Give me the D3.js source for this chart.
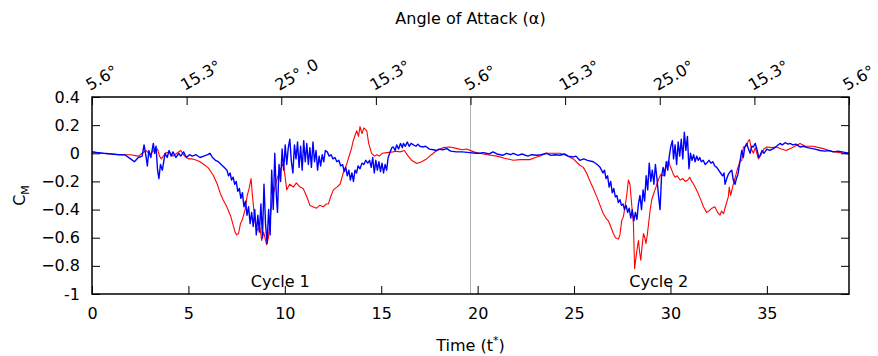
<!DOCTYPE html>
<html><head><meta charset="utf-8">
<script src="https://cdn.jsdelivr.net/npm/d3@7"></script>
<style>body{margin:0;background:#fff}svg{display:block}text{font-family:"DejaVu Sans",sans-serif;fill:#000}</style>
</head><body><svg id="c" width="878" height="356"></svg>
<script>
// [time t*, C_M]
const blueSeries=[[0,0.01],[0.3,0.005],[0.6,0],[1,-0.005],[1.4,-0.01],[1.7,-0.01],[2,-0.04],[2.2,-0.06],[2.4,-0.03],[2.6,-0.02],[2.7,0.06],[2.8,-0.02],[2.87,-0.09],[2.95,0.02],[3.05,-0.03],[3.18,0.07],[3.25,0],[3.32,0.05],[3.4,-0.12],[3.47,-0.18],[3.55,-0.08],[3.65,-0.12],[3.79,0],[3.9,-0.03],[4,0.02],[4.1,-0.02],[4.2,0.01],[4.35,-0.03],[4.5,0],[4.6,-0.02],[4.75,0.01],[4.9,-0.03],[5.05,-0.01],[5.2,-0.02],[5.4,-0.01],[5.6,-0.03],[5.8,-0.02],[6,-0.01],[6.12,0],[6.25,-0.03],[6.4,-0.05],[6.55,-0.06],[6.7,-0.08],[6.85,-0.1],
[7,-0.12],[7.08,-0.16],[7.16,-0.14],[7.24,-0.19],[7.32,-0.17],[7.4,-0.22],[7.48,-0.2],[7.56,-0.27],[7.64,-0.25],[7.72,-0.32],[7.8,-0.28],[7.88,-0.38],[7.96,-0.34],[8.04,-0.44],[8.12,-0.38],[8.2,-0.5],[8.28,-0.42],[8.36,-0.52],[8.44,-0.4],[8.52,-0.58],[8.6,-0.44],[8.68,-0.56],[8.76,-0.36],[8.84,-0.6],[8.92,-0.22],[9,-0.5],[9.08,-0.64],[9.16,-0.4],[9.24,-0.58],[9.32,-0.12],[9.4,-0.4],[9.48,0],[9.56,-0.3],[9.62,-0.42],[9.7,-0.08],[9.78,-0.2],[9.86,0.03],[9.94,-0.12],[10.02,0.06],[10.1,-0.08],[10.18,0.04],[10.26,0.1],[10.34,-0.06],[10.42,-0.14],[10.5,0.06],[10.58,-0.04],[10.66,0.08],[10.74,-0.1],[10.82,0.05],[10.9,-0.12],[10.98,0.09],[11.06,-0.06],[11.14,0.07],[11.22,-0.08],[11.3,0.04],[11.38,-0.1],[11.46,0.08],[11.54,-0.06],[11.62,0.02],[11.7,-0.12],[11.78,-0.02],[11.86,-0.09],[11.94,-0.01],[12.02,-0.06],[12.1,0.02],[12.2,0.01],[12.3,-0.02],[12.4,-0.01],[12.5,-0.04],[12.6,-0.03],[12.7,-0.06],[12.8,-0.05],[12.9,-0.09],[13,-0.08],[13.08,-0.13],[13.16,-0.1],[13.24,-0.16],[13.32,-0.12],[13.4,-0.19],[13.48,-0.14],[13.56,-0.2],[13.64,-0.12],[13.72,-0.14],[13.8,-0.09],[13.9,-0.11],[14,-0.07],[14.1,-0.08],[14.2,-0.05],[14.3,-0.07],[14.4,-0.05],[14.48,-0.1],[14.56,-0.03],[14.64,-0.14],[14.72,-0.05],[14.8,-0.12],[14.88,-0.06],[14.96,-0.13],[15.04,-0.07],[15.12,-0.14],[15.2,-0.08],[15.28,-0.12],[15.36,-0.03],[15.44,0],
[15.55,0.04],[15.63,0.045],[15.72,0.02],[15.8,0.06],[15.9,0.03],[16,0.07],[16.1,0.04],[16.15,0.07],[16.25,0.05],[16.35,0.08],[16.45,0.05],[16.55,0.07],[16.67,0.06],[16.8,0.05],[16.9,0.065],[17,0.05],[17.18,0.045],[17.3,0.05],[17.5,0.03],[17.7,0.025],[17.88,0.02],[18,0.03],[18.2,0.025],[18.4,0.033],[18.6,0.015],[18.9,0.01],[19.2,0.01],[19.6,0.005],[19.9,0],[20.1,0],[20.3,0.005],[20.6,-0.005],[20.8,0.01],[21,-0.005],[21.3,-0.014],[21.5,0],[21.7,-0.01],[21.85,0],[22.1,-0.015],[22.3,-0.005],[22.6,-0.02],[22.8,-0.01],[23.06,-0.014],[23.3,-0.01],[23.58,0],[23.8,-0.015],[24,-0.01],[24.27,-0.014],[24.5,-0.005],[24.7,-0.02],[24.96,-0.026],[25.1,-0.02],[25.3,-0.05],[25.5,-0.04],[25.7,-0.05],[26,-0.06],[26.2,-0.08],[26.35,-0.1],
[26.5,-0.14],[26.58,-0.12],[26.66,-0.18],[26.74,-0.16],[26.82,-0.24],[26.9,-0.2],[26.98,-0.28],[27.06,-0.25],[27.14,-0.31],[27.22,-0.3],[27.3,-0.35],[27.38,-0.33],[27.46,-0.37],[27.54,-0.36],[27.62,-0.4],[27.7,-0.37],[27.78,-0.42],[27.86,-0.39],[27.94,-0.46],[28.02,-0.4],[28.1,-0.48],[28.18,-0.42],[28.26,-0.47],[28.34,-0.36],[28.42,-0.3],[28.5,-0.4],[28.58,-0.26],[28.66,-0.34],[28.74,-0.16],[28.82,-0.26],[28.9,-0.07],[28.98,-0.2],[29.06,-0.12],[29.14,-0.22],[29.22,-0.08],[29.3,-0.18],[29.38,-0.3],[29.46,-0.4],[29.54,-0.16],[29.62,-0.1],[29.7,-0.16],[29.78,-0.06],[29.86,-0.12],[29.94,-0.02],[30.02,0.05],[30.1,0.09],[30.16,-0.04],[30.24,0.06],[30.32,-0.08],[30.4,0.08],[30.48,-0.02],[30.56,0.1],[30.64,-0.04],[30.72,0.15],[30.8,0.02],[30.88,0.12],[30.96,-0.11],[31.04,0],[31.12,-0.05],[31.2,-0.01],[31.28,-0.06],[31.36,-0.02],[31.44,-0.05],[31.52,-0.03],[31.6,-0.06],
[31.7,-0.05],[31.8,-0.08],[31.88,-0.07],[32,-0.05],[32.1,-0.07],[32.2,-0.06],[32.3,-0.09],[32.4,-0.1],[32.5,-0.12],[32.6,-0.14],[32.7,-0.16],[32.78,-0.14],[32.83,-0.22],[32.92,-0.18],[33,-0.15],[33.1,-0.13],[33.18,-0.12],[33.26,-0.19],[33.35,-0.22],[33.42,-0.18],[33.5,-0.15],[33.58,-0.08],[33.7,0.02],[33.78,-0.03],[33.85,0.04],[33.95,0.07],[34.05,0.03],[34.13,0],[34.22,0.05],[34.3,0.045],[34.4,0.07],[34.5,0.02],[34.58,-0.03],[34.65,-0.014],[34.75,0.02],[34.85,0],[35,0.03],[35.15,0.02],[35.34,0.033],[35.5,0.05],[35.68,0.07],[35.8,0.06],[35.95,0.075],[36.1,0.065],[36.2,0.07],[36.35,0.06],[36.5,0.065],[36.72,0.045],[36.9,0.05],[37.1,0.04],[37.3,0.035],[37.5,0.03],[37.76,0.02],[38,0.015],[38.2,0.02],[38.45,0.01],[38.7,0.015],[38.9,0.01],[39.1,0.005],[39.26,0]];
const redSeries=[[0,0.01],[0.5,0],[1,-0.005],[1.5,-0.01],[2,-0.01],[2.4,-0.02],[2.6,0],[2.8,0.02],[3,-0.01],[3.2,0.02],[3.4,0.03],[3.5,-0.02],[3.6,-0.04],[3.8,0],[4,0.01],[4.2,-0.02],[4.4,0],[4.6,0.02],[4.8,-0.02],[5,-0.04],[5.2,-0.04],[5.43,-0.05],[5.6,-0.06],[5.8,-0.08],[6,-0.1],[6.12,-0.12],[6.3,-0.16],[6.5,-0.22],[6.64,-0.28],[6.8,-0.33],[6.99,-0.38],[7.2,-0.45],[7.42,-0.56],[7.5,-0.58],[7.6,-0.57],[7.7,-0.5],[7.8,-0.47],[7.94,-0.4],[8.05,-0.3],[8.15,-0.25],[8.25,-0.18],[8.32,-0.3],[8.45,-0.48],[8.55,-0.55],[8.7,-0.52],[8.8,-0.62],[8.9,-0.56],[9.06,-0.65],[9.15,-0.6],[9.23,-0.48],[9.35,-0.32],[9.49,-0.24],[9.6,-0.18],[9.75,-0.12],[9.92,-0.07],[10,-0.15],[10.1,-0.26],[10.25,-0.22],[10.44,-0.24],[10.6,-0.21],[10.79,-0.24],[10.95,-0.25],[11.05,-0.28],[11.2,-0.33],[11.3,-0.37],[11.45,-0.38],[11.65,-0.39],[11.8,-0.37],[12,-0.38],[12.15,-0.36],[12.26,-0.36],[12.4,-0.3],[12.52,-0.26],[12.7,-0.24],[12.86,-0.22],[12.95,-0.18],[13.03,-0.14],[13.2,-0.08],[13.38,0],[13.45,0.03],[13.55,0.09],[13.65,0.13],[13.73,0.16],[13.82,0.12],[13.9,0.19],[14,0.14],[14.1,0.18],[14.25,0.16],[14.35,0.07],[14.5,0],[14.65,-0.02],[14.77,-0.01],[14.9,-0.02],[15.05,0],[15.3,0.005],[15.6,0.01],[15.8,0.015],[15.97,0.01],[16.2,0.02],[16.4,-0.02],[16.58,-0.05],[16.84,-0.073],[17.1,-0.06],[17.35,-0.04],[17.6,-0.01],[17.88,0.02],[18.2,0.04],[18.57,0.045],[18.9,0.035],[19.2,0.025],[19.43,0.03],[19.8,0.01],[20.1,0],[20.5,-0.01],[21,-0.02],[21.4,-0.035],[21.85,-0.05],[22.2,-0.045],[22.7,-0.045],[23,-0.03],[23.3,-0.015],[23.58,0],[23.9,0],[24.27,0],[24.6,-0.015],[24.96,-0.04],[25.3,-0.085],[25.48,-0.1],[25.65,-0.14],[25.8,-0.19],[26,-0.25],[26.18,-0.31],[26.35,-0.37],[26.52,-0.43],[26.65,-0.46],[26.78,-0.48],[26.9,-0.52],[27.04,-0.57],[27.15,-0.6],[27.3,-0.61],[27.38,-0.58],[27.47,-0.48],[27.56,-0.45],[27.64,-0.38],[27.73,-0.3],[27.82,-0.19],[27.9,-0.22],[28,-0.38],[28.08,-0.5],[28.14,-0.82],[28.25,-0.7],[28.34,-0.62],[28.4,-0.7],[28.46,-0.76],[28.53,-0.66],[28.6,-0.57],[28.67,-0.6],[28.73,-0.64],[28.8,-0.58],[28.85,-0.52],[28.95,-0.4],[29.03,-0.33],[29.1,-0.3],[29.2,-0.26],[29.3,-0.22],[29.37,-0.19],[29.5,-0.15],[29.63,-0.16],[29.75,-0.1],[29.9,-0.05],[29.98,-0.09],[30.07,-0.12],[30.15,-0.15],[30.24,-0.17],[30.35,-0.16],[30.5,-0.19],[30.65,-0.18],[30.76,-0.2],[30.9,-0.19],[31,-0.17],[31.1,-0.2],[31.2,-0.22],[31.35,-0.26],[31.45,-0.29],[31.6,-0.34],[31.71,-0.38],[31.88,-0.42],[32,-0.41],[32.15,-0.39],[32.3,-0.38],[32.45,-0.42],[32.57,-0.44],[32.65,-0.41],[32.75,-0.43],[32.85,-0.38],[33,-0.31],[33.05,-0.24],[33.12,-0.3],[33.26,-0.22],[33.4,-0.15],[33.5,-0.1],[33.6,-0.06],[33.7,-0.05],[33.78,0.045],[33.9,0.05],[33.95,0.057],[34.04,0.09],[34.1,0.097],[34.2,0.03],[34.3,0],[34.4,0.04],[34.56,-0.04],[34.7,-0.01],[34.85,0.03],[35,0.045],[35.25,0.04],[35.5,0.045],[35.75,0.03],[36,0.02],[36.3,0.04],[36.72,0.07],[37,0.05],[37.4,0.05],[37.7,0.04],[37.93,0.033],[38.2,0.02],[38.5,0.01],[38.8,0.005],[39,0],[39.26,-0.007]];
const xTicks=[0,5,10,15,20,25,30,35];
const yTicks=[0.4,0.2,0,-0.2,-0.4,-0.6,-0.8,-1];
const cycleLength=19.63;
const angleLabels=["5.6°","15.3°","25°\u2009.0","15.3°","5.6°","15.3°","25.0°","15.3°","5.6°"];
const cycleNames=["Cycle 1","Cycle 2"];

const FS=16;
const svg=d3.select("#c");
const L=92,R=849,T=97,B=294;
const x=d3.scaleLinear().domain([0,2*cycleLength]).range([L,R]);
const y=d3.scaleLinear().domain([-1,0.4]).range([B,T]);
const fmt=d=>d===0?"0":(Math.abs(d)===1?String(d):d3.format(".1f")(d));

svg.append("line").attr("x1",x(cycleLength)).attr("x2",x(cycleLength)).attr("y1",T).attr("y2",B).attr("stroke","#b0b0b0").attr("stroke-width",1);

const line=d3.line().x(d=>x(d[0])).y(d=>y(d[1]));
svg.append("path").datum(redSeries).attr("d",line).attr("fill","none").attr("stroke","#ff0000").attr("stroke-width",1.1).attr("stroke-linejoin","round");
svg.append("path").datum(blueSeries).attr("d",line).attr("fill","none").attr("stroke","#0000ff").attr("stroke-width",1.4).attr("stroke-linejoin","round");

const ax=svg.append("g");
const bottom=ax.append("g").attr("transform",`translate(0,${B})`).call(d3.axisBottom(x).tickValues(xTicks).tickSize(-8).tickPadding(14).tickFormat(d3.format("d")));
const left=ax.append("g").attr("transform",`translate(${L},0)`).call(d3.axisLeft(y).tickValues(yTicks).tickSize(-8).tickPadding(12).tickFormat(fmt));
const right=ax.append("g").attr("transform",`translate(${R},0)`).call(d3.axisRight(y).tickValues(yTicks).tickSize(-8).tickFormat(""));
const topTicks=angleLabels.map((_,i)=>i*cycleLength/4);
const topAx=ax.append("g").attr("transform",`translate(0,${T})`).call(d3.axisTop(x).tickValues(topTicks).tickSize(-8).tickFormat(""));
[bottom,left,right,topAx].forEach(g=>{g.attr("font-size",FS).attr("font-family","DejaVu Sans");g.select(".domain").remove();g.selectAll("line").attr("stroke","#000");g.selectAll("text").attr("fill","#000");});
svg.append("rect").attr("x",L).attr("y",T).attr("width",R-L).attr("height",B-T).attr("fill","none").attr("stroke","#000").attr("stroke-width",1.5);

svg.append("g").selectAll("text").data(angleLabels).join("text")
  .attr("transform",(d,i)=>`translate(${x(topTicks[i])-2},${T-6}) rotate(-30)`)
  .attr("font-size",FS).text(d=>d);

svg.append("g").selectAll("text").data(cycleNames).join("text")
  .attr("x",(d,i)=>x(cycleLength*(i+0.5)-0.05)).attr("y",287).attr("text-anchor","middle").attr("font-size",FS).text(d=>d);

svg.append("text").attr("x",x(cycleLength)).attr("y",24).attr("text-anchor","middle").attr("font-size",FS).text("Angle of Attack (α)");
const tl=svg.append("text").attr("x",x(cycleLength)).attr("y",351).attr("text-anchor","middle").attr("font-size",FS);
tl.append("tspan").text("Time (t");
tl.append("tspan").attr("dy",-7).attr("font-size",11).text("*");
tl.append("tspan").attr("dy",7).text(")");
const cm=svg.append("text").attr("transform",`translate(25,${(T+B)/2}) rotate(-90)`).attr("text-anchor","middle").attr("font-size",FS);
cm.append("tspan").text("C");
cm.append("tspan").attr("dy",4).attr("font-size",11).text("M");
</script></body></html>
